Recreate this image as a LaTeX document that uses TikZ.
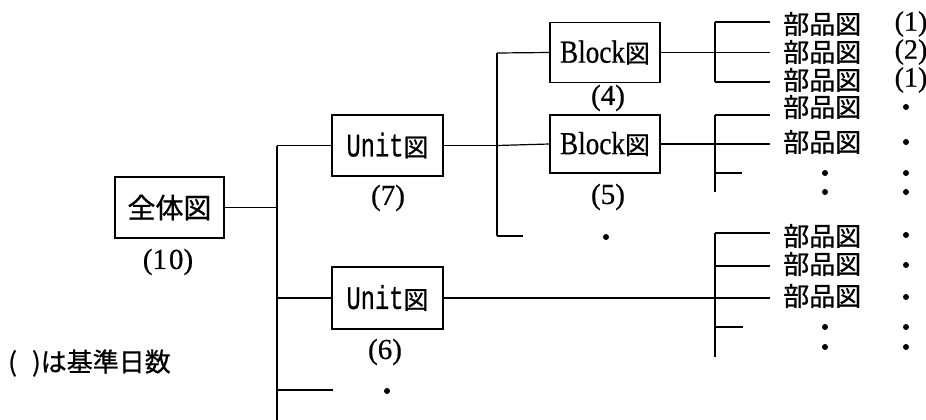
\documentclass[tikz,border=0pt]{standalone}
\usepackage{fontspec}
\usepackage{graphicx}
\setmainfont{Liberation Serif}[FakeBold=0.6]
\newfontfamily\jp{Noto Sans CJK JP}[FakeBold=0.8]
\newfontfamily\monolat{Liberation Mono}[FakeBold=0.6]
\newcommand{\latn}[1]{\scalebox{0.85}[1]{#1}}
\newcommand{\monoscale}[1]{\scalebox{0.72}[1]{#1}}
\begin{document}
\begin{tikzpicture}[x=1pt,y=-1pt,
  box/.style={draw, line width=1.3pt, inner sep=0pt, minimum width=110pt, minimum height=60pt},
  lbl/.style={inner sep=0pt, font=\fontsize{29}{29}\selectfont},
  part/.style={inner sep=0pt, anchor=west, font=\jp\fontsize{26}{26}\selectfont},
  vline/.style={line width=1.7pt},
  hline/.style={line width=1.2pt},
  pdot/.style={fill, circle, inner sep=0pt, minimum size=6pt}]
\useasboundingbox (0,0) rectangle (926,420);

% boxes
\node[box, minimum width=109pt, minimum height=61pt] (whole) at (169.5,207.5) {\jp\fontsize{28}{28}\selectfont 全体図};
\node[lbl] (l10) at (168,262) {(1\hspace{2pt}0)};
\node[box, minimum width=111pt, minimum height=61pt] (u7) at (387.5,145.5) {\monoscale{\monolat\fontsize{33}{33}\selectfont Unit}\jp\fontsize{25}{25}\selectfont 図};
\node[lbl] (l7) at (388,198) {(7)};
\node[box, minimum width=111pt, minimum height=62pt] (u6) at (387.5,298) {\monoscale{\monolat\fontsize{33}{33}\selectfont Unit}\jp\fontsize{25}{25}\selectfont 図};
\node[lbl] (l6) at (385,352) {(6)};
\node[box, minimum width=110pt, minimum height=60pt] (b4) at (605,52.5) {\latn{\fontsize{32}{32}\selectfont Block}\jp\fontsize{25}{25}\selectfont 図};
\node[lbl] (l4) at (608,98) {(4)};
\node[box, minimum width=110pt, minimum height=58pt] (b5) at (605,144) {\latn{\fontsize{32}{32}\selectfont Block}\jp\fontsize{25}{25}\selectfont 図};
\node[lbl] (l5) at (608,197) {(5)};

\node[inner sep=0pt, anchor=west, font=\jp\fontsize{26}{26}\selectfont] (note) at (8,363) {(\hspace{15pt})は基準日数};

% junction coordinates
\coordinate (mtop) at (277,145.5);
\coordinate (mj) at (277,207.5);
\coordinate (m6) at (277,298);
\coordinate (m3) at (277,390);
\coordinate (mbot) at (277,420);
\coordinate (s3) at (333,390);

\coordinate (btop) at (497,53);
\coordinate (bmid) at (497,145.5);
\coordinate (bbot) at (497,236);
\coordinate (bs) at (523,236);

% main trunk
\draw[vline] (mtop) -- (mbot);
\draw[hline] (whole.east) -- (mj);
\draw[hline] (mtop) -- (u7.west);
\draw[hline] (m6) -- (u6.west);
\draw[hline] (m3) -- (s3);

% unit 7 sub-tree
\draw[vline] (btop) -- (bbot);
\draw[hline] (u7.east) -- (bmid);
\draw[hline] (btop) -- (b4.west);
\draw[hline] (bmid) -- (b5.west);
\draw[hline] (bbot) -- (bs);

% parts lists
\node[part] (p1) at (783,24) {部品図};
\node[part] (p2) at (783,52) {部品図};
\node[part] (p3) at (783,80) {部品図};
\node[part] (p4) at (783,107) {部品図};
\node[part] (p5) at (783,142) {部品図};
\node[part] (p6) at (783,236) {部品図};
\node[part] (p7) at (783,264) {部品図};
\node[part] (p8) at (783,296) {部品図};

% block 4 bracket
\coordinate (a1) at (715,22);
\coordinate (a2) at (715,52.5);
\coordinate (a3) at (715,82);
\coordinate (e1) at (770,22);
\coordinate (e2) at (770,52.5);
\coordinate (e3) at (770,82);
\draw[vline] (a1) -- (a3);
\draw[hline] (b4.east) -- (a2);
\draw[hline] (a1) -- (e1);
\draw[hline] (a2) -- (e2);
\draw[hline] (a3) -- (e3);

% block 5 bracket
\coordinate (c1) at (715,115);
\coordinate (c2) at (715,144);
\coordinate (c3) at (715,173);
\coordinate (c4) at (715,192);
\coordinate (f1) at (770,115);
\coordinate (f2) at (770,144);
\coordinate (f3) at (742,173);
\draw[vline] (c1) -- (c4);
\draw[hline] (b5.east) -- (c2);
\draw[hline] (c1) -- (f1);
\draw[hline] (c2) -- (f2);
\draw[hline] (c3) -- (f3);

% unit 6 bracket
\coordinate (d1) at (715,233);
\coordinate (d2) at (715,266);
\coordinate (d3) at (715,298);
\coordinate (d4) at (715,327);
\coordinate (d5) at (715,357);
\coordinate (g1) at (770,233);
\coordinate (g2) at (770,266);
\coordinate (g3) at (770,298);
\coordinate (g4) at (743,327);
\draw[vline] (d1) -- (d5);
\draw[hline] (u6.east) -- (d3);
\draw[hline] (d1) -- (g1);
\draw[hline] (d2) -- (g2);
\draw[hline] (d3) -- (g3);
\draw[hline] (d4) -- (g4);

% day counts
\node[lbl, font=\fontsize{28}{28}\selectfont] (n1) at (911,24) {(1)};
\node[lbl, font=\fontsize{28}{28}\selectfont] (n2) at (911,52) {(2)};
\node[lbl, font=\fontsize{28}{28}\selectfont] (n3) at (911,80) {(1)};

% dots
\foreach \y [count=\i] in {107,142,173,192,235,265,297,327,347}
  \node[pdot] (rd\i) at (906,\y) {};
\foreach \y [count=\i] in {173,192,327,347}
  \node[pdot] (cd\i) at (825,\y) {};
\node[pdot] (dotb) at (606,237) {};
\node[pdot] (dotu) at (387,391) {};
\end{tikzpicture}
\end{document}
